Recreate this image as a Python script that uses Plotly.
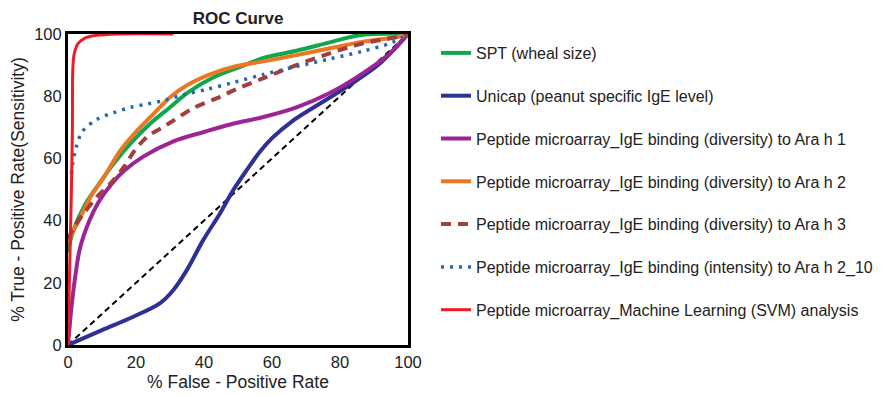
import plotly.graph_objects as go

# ---- data ----
spt_x = [0, 1.3, 4.7, 8.6, 13.5, 18.4, 24.3, 30.2, 35, 42.7, 49.6, 57.5, 67.2, 77, 86, 100]
spt_y = [30, 36, 44.5, 51, 58.4, 64.8, 71.3, 76.6, 81, 86, 89, 92.3, 94.6, 97.3, 99.7, 100]

unicap_x = [0, 10, 19.2, 27, 31, 34.9, 39.8, 44.7, 48.6, 52.6, 56.5, 60, 66, 72, 82, 91.8, 100]
unicap_y = [0, 4.8, 9.1, 13.4, 17.7, 24, 33.8, 42.3, 49.8, 56.3, 62.2, 66.5, 72, 76.2, 83, 90.6, 100]

arah1_x = [0, 1, 2, 3.5, 6.3, 9, 13, 16.5, 22, 31, 40, 48, 57.5, 67.2, 77, 86.8, 94.7, 100]
arah1_y = [0, 12, 21, 31, 40, 46, 52, 56, 60.5, 65.5, 68.5, 71, 73.3, 76.4, 81, 87.4, 93.8, 100]

arah2_x = [0, 1, 2.7, 6.7, 10.6, 15.5, 20.4, 26.3, 30.2, 35, 41.8, 49.6, 57.5, 67.2, 77, 86.8, 97.6, 100]
arah2_y = [33, 35.5, 39, 47.7, 54, 62.7, 69, 75.6, 79.8, 83.5, 87, 89.7, 91.2, 93.2, 95.4, 97.5, 99.2, 100]

arah3_x = [0, 1.8, 4.7, 8.6, 12.5, 16.5, 19.4, 23.3, 28.2, 31.2, 36.9, 44.7, 49.6, 57.5, 67.2, 77, 86.8, 96.6, 100]
arah3_y = [34, 38, 42.4, 47.7, 52, 57.3, 62.2, 67, 70.2, 72.3, 76.2, 79.8, 82.3, 85.8, 90, 93.8, 97, 99, 100]

int_x = [1, 1.3, 2.3, 4.2, 8.6, 13.5, 18.4, 23.3, 28.2, 33.8, 40.8, 48.6, 57.5, 67, 77, 86.8, 94.7, 98.5, 100]
int_y = [55, 57.9, 63.2, 68.6, 72.6, 74.7, 76.4, 77.5, 78.6, 80.4, 82.2, 84.4, 87, 89.5, 92, 94.5, 97, 99, 100]

svm_x = [0, 0.5, 1, 1.3, 1.4, 1.8, 3, 5, 8, 15, 31]
svm_y = [0, 25, 50, 70, 88, 93.5, 97, 98.7, 99.5, 100, 100]

ref_x = [0, 100]
ref_y = [0, 100]

names = [
    "SPT (wheal size)",
    "Unicap (peanut specific IgE level)",
    "Peptide microarray_IgE binding (diversity) to Ara h 1",
    "Peptide microarray_IgE binding (diversity) to Ara h 2",
    "Peptide microarray_IgE binding (diversity) to Ara h 3",
    "Peptide microarray_IgE binding (intensity) to Ara h 2_10",
    "Peptide microarray_Machine Learning (SVM) analysis",
]
ticks = [0, 20, 40, 60, 80, 100]

FONT = "Liberation Sans, Arial, sans-serif"

fig = go.Figure()

fig.add_trace(go.Scatter(x=ref_x, y=ref_y, mode="lines", showlegend=False,
                         line=dict(color="black", width=2, dash="6px,4px"),
                         hoverinfo="skip"))

series = [
    (spt_x, spt_y, "#12A64C", 4, "solid"),
    (unicap_x, unicap_y, "#2E3192", 4, "solid"),
    (arah1_x, arah1_y, "#9B2594", 4, "solid"),
    (arah2_x, arah2_y, "#EC7722", 4, "solid"),
    (arah3_x, arah3_y, "#A23F3C", 4, "10px,7px"),
    (int_x, int_y, "#2768AE", 3.5, "3px,6px"),
    (svm_x, svm_y, "#EE1C25", 3, "solid"),
]

for i, ((xs, ys, col, w, dash), nm) in enumerate(zip(series, names)):
    fig.add_trace(go.Scatter(
        x=xs, y=ys, mode="lines", name=nm, legendgroup=f"g{i}",
        line=dict(color=col, width=w, dash=dash, shape="spline", smoothing=0.9),
        cliponaxis=False,
    ))

axis_common = dict(
    range=[0, 100], showline=True, linecolor="black", linewidth=3, mirror=True,
    showgrid=False, zeroline=False, ticks="", tickvals=ticks, automargin=False,
    tickfont=dict(family=FONT, size=16.5, color="#222"),
)

# page has an 8px body margin, so the figure is 875x387 and shifted
fig.update_layout(
    width=875, height=387,
    margin=dict(l=60, r=475, t=26, b=50, autoexpand=False),
    paper_bgcolor="white", plot_bgcolor="white",
    title=dict(text="<b>ROC Curve</b>", x=230 / 875, xanchor="center",
               y=1 - 10 / 387, yanchor="middle",
               font=dict(family=FONT, size=17, color="#222")),
    xaxis=dict(**axis_common,
               title=dict(text="% False - Positive Rate", standoff=6,
                          font=dict(family=FONT, size=17.5, color="#222"))),
    yaxis=dict(**axis_common,
               title=dict(text="% True - Positive Rate(Sensitivity)", standoff=8,
                          font=dict(family=FONT, size=17.5, color="#222"))),
    legend=dict(x=1.0824, xanchor="left", y=1 - 2 / 311, yanchor="top",
                tracegroupgap=19, bgcolor="rgba(0,0,0,0)",
                font=dict(family=FONT, size=16, color="#222")),
    showlegend=True,
)

fig.write_html("out.html")
